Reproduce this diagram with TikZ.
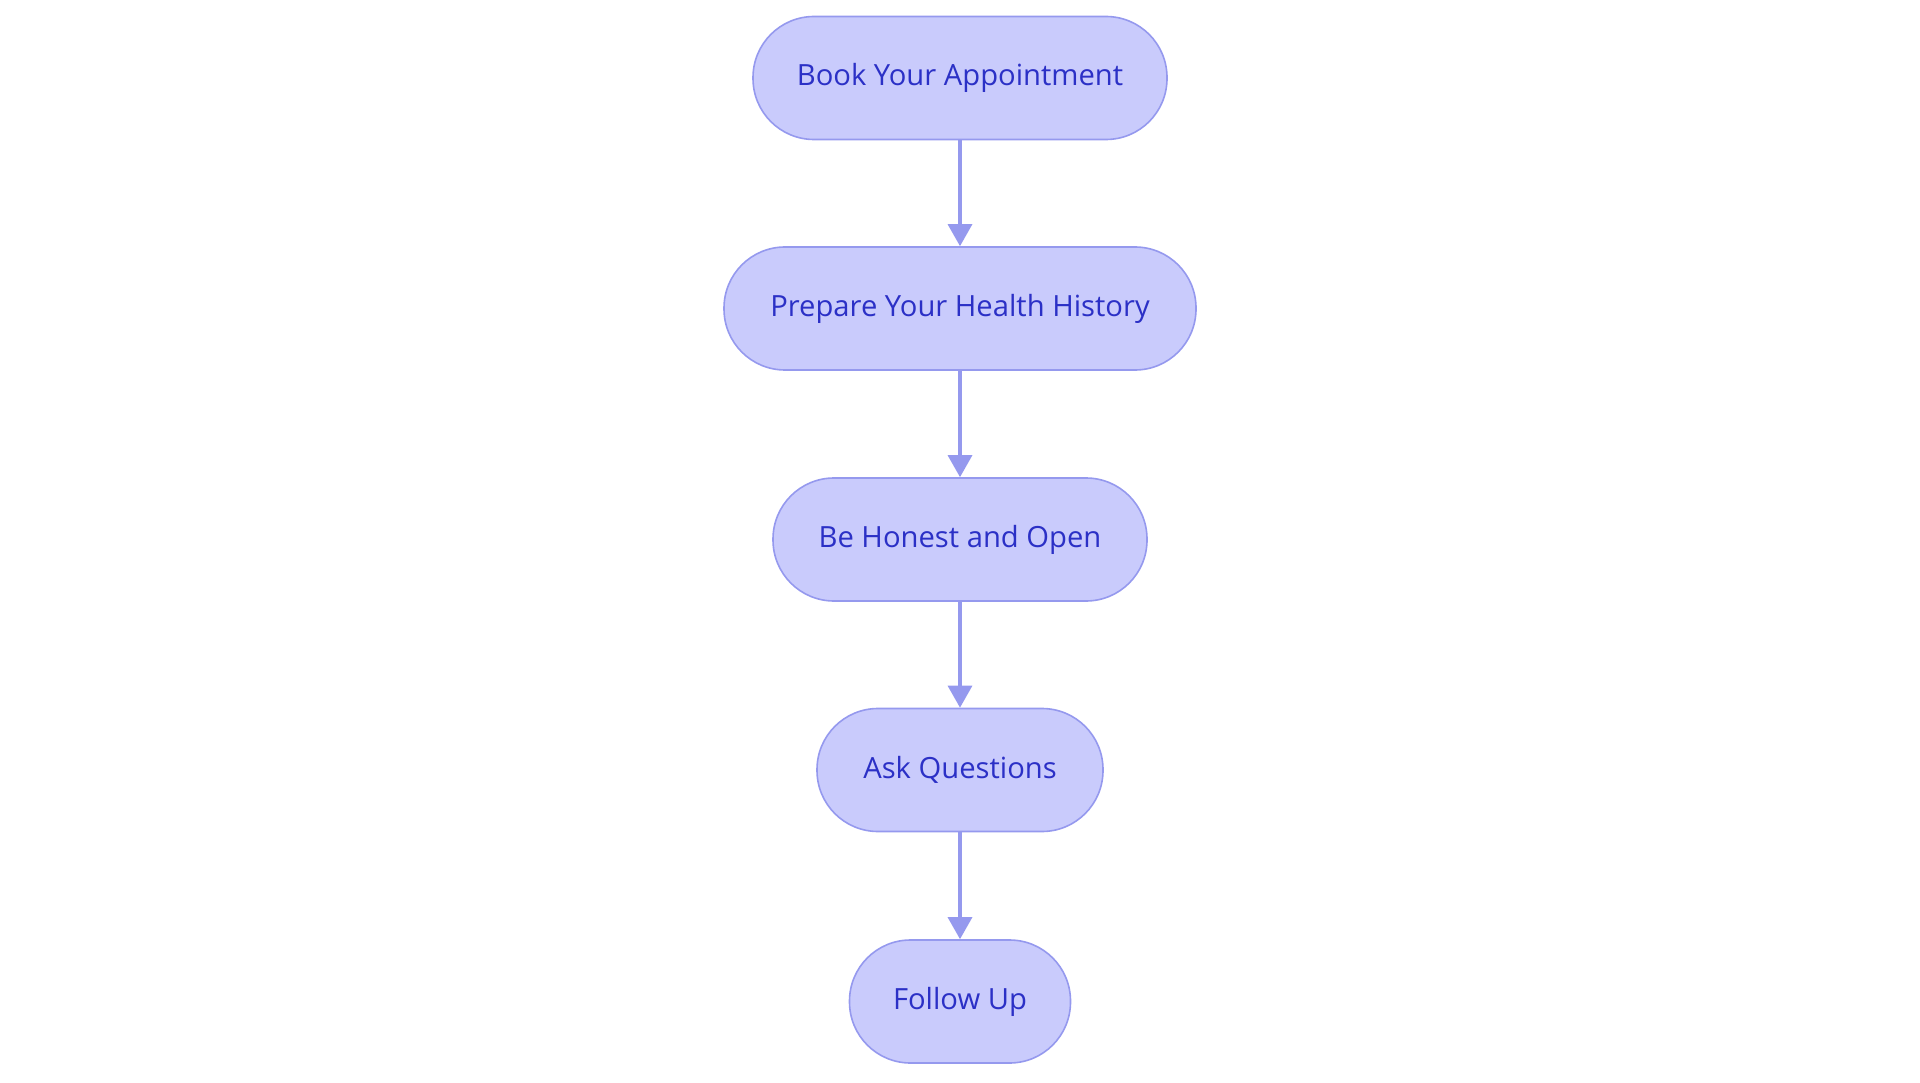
\documentclass[tikz,border=0pt]{standalone}
\usepackage{fontspec}
\setmainfont{Open Sans}
\usetikzlibrary{arrows.meta}
\definecolor{fillc}{HTML}{C9CBFC}
\definecolor{drawc}{HTML}{9599EE}
\definecolor{textc}{HTML}{2B30C6}
\begin{document}
\begin{tikzpicture}[x=1pt,y=-1pt,
  stepbox/.style={draw=drawc,fill=fillc,line width=1.6pt,rounded corners=61pt,
    minimum height=123pt,inner sep=0pt,text=textc,
    font=\fontsize{29.2}{35}\selectfont},
  conn/.style={draw=drawc,line width=3.2pt,-{Triangle[length=22pt,width=24pt]}}]
\useasboundingbox (0,0) rectangle (1920,1083);
\node[stepbox,minimum width=414pt] (a) at (960,78) {Book Your Appointment};
\node[stepbox,minimum width=472pt] (b) at (960,308.5) {Prepare Your Health History};
\node[stepbox,minimum width=374pt] (c) at (960,539.5) {Be Honest and Open};
\node[stepbox,minimum width=286pt] (d) at (960,770) {Ask Questions};
\node[stepbox,minimum width=221pt] (e) at (960,1001.5) {Follow Up};
\draw[conn] (a) -- (b);
\draw[conn] (b) -- (c);
\draw[conn] (c) -- (d);
\draw[conn] (d) -- (e);
\end{tikzpicture}
\end{document}
